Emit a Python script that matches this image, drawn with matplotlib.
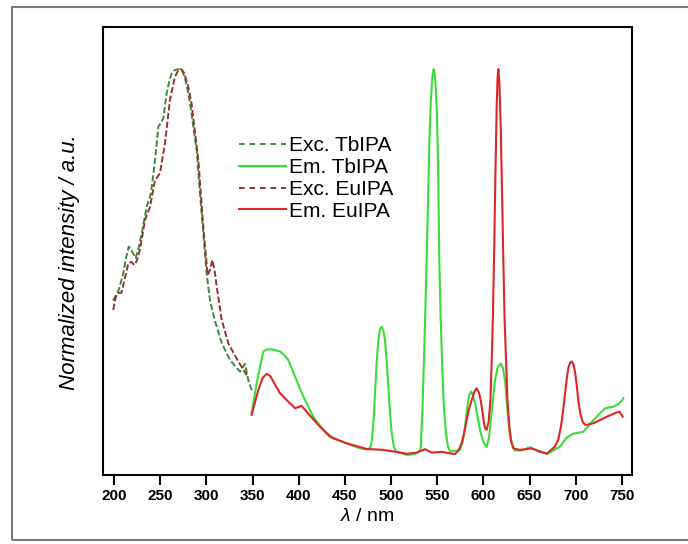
import matplotlib
matplotlib.use("Agg")
import matplotlib.pyplot as plt
from matplotlib.lines import Line2D
from matplotlib.patches import Rectangle

# ==========================================================
# 1. Data
# ==========================================================
exc_tb_wl = [199, 205, 210, 213, 216, 219, 223.5, 227, 230, 235.4,
             240, 244.4, 248, 253.4, 257, 260, 262.5, 265, 268, 271.5,
             274, 277, 280.4, 283, 285.9, 289.5, 293, 296.7, 300.3, 304,
             309, 316.6, 325.6, 336.4, 341.8, 345.4, 349]
exc_tb_int = [0.40, 0.427, 0.47, 0.51, 0.54, 0.53, 0.51, 0.54, 0.574, 0.643,
              0.678, 0.764, 0.85, 0.872, 0.937, 0.97, 0.989, 0.996, 0.999, 1.0,
              0.995, 0.975, 0.937, 0.9, 0.85, 0.79, 0.68, 0.575, 0.47, 0.40,
              0.35, 0.29, 0.246, 0.216, 0.236, 0.194, 0.168]

exc_eu_wl = [199.2, 202, 205, 208, 212, 215.5, 219, 222, 225, 228,
             233.6, 239, 244.4, 249.8, 255.2, 260.6, 266, 269.5, 272.5, 276,
             280.4, 284, 287, 291.3, 296.7, 301.4, 304, 306.4, 308.8, 311.2,
             316.6, 323.8, 334.6, 343.7]
exc_eu_int = [0.376, 0.41, 0.42, 0.42, 0.46, 0.497, 0.5, 0.492, 0.505, 0.531,
              0.609, 0.643, 0.712, 0.73, 0.808, 0.92, 0.98, 0.996, 1.0, 0.99,
              0.954, 0.91, 0.85, 0.764, 0.59, 0.466, 0.48, 0.505, 0.48, 0.436,
              0.35, 0.289, 0.242, 0.207]

em_tb_wl = [349, 354.5, 361.6, 365, 369, 374, 379.7, 384, 388.7, 396,
            405, 415.8, 426.6, 437.4, 451.9, 465, 475, 478, 479.5, 481,
            482.6, 484.4, 486.2, 488, 489.8, 491.6, 493.4, 495.2, 497, 498.8,
            500.7, 503, 505.3, 517, 526, 532, 534, 535.6, 537, 538.5,
            540, 541.4, 542.7, 543.9, 545, 546.1, 547.3, 548.6, 549.5, 550.4,
            551.3, 552.2, 553.6, 555.1, 557, 559.4, 561.5, 563.8, 574.6, 577.5,
            580, 582, 583.6, 585, 586.5, 588.5, 590.9, 593.5, 596.3, 599.5,
            603.4, 606, 608, 610.3, 612.5, 615.5, 618.7, 621, 623.3, 625,
            626.9, 628.8, 630.6, 634.2, 642, 650.4, 660, 670.2, 683, 690,
            697.3, 708, 719, 731.6, 740.6, 746, 749.7, 751.4]
em_tb_int = [0.108, 0.186, 0.268, 0.273, 0.274, 0.272, 0.268, 0.26, 0.246, 0.203,
             0.151, 0.099, 0.065, 0.043, 0.030, 0.018, 0.014, 0.022, 0.045, 0.09,
             0.16, 0.24, 0.298, 0.325, 0.332, 0.322, 0.298, 0.245, 0.177, 0.11,
             0.056, 0.022, 0.009, 0.0, 0.002, 0.013, 0.12, 0.246, 0.37, 0.505,
             0.66, 0.807, 0.9, 0.954, 0.988, 1.0, 0.985, 0.945, 0.89, 0.807,
             0.67, 0.505, 0.36, 0.246, 0.13, 0.056, 0.022, 0.009, 0.013, 0.035,
             0.073, 0.115, 0.142, 0.158, 0.164, 0.155, 0.134, 0.1, 0.065, 0.035,
             0.02, 0.045, 0.09, 0.145, 0.194, 0.228, 0.237, 0.225, 0.194, 0.145,
             0.09, 0.052, 0.030, 0.011, 0.012, 0.02, 0.008, 0.004, 0.022, 0.045,
             0.055, 0.06, 0.09, 0.121, 0.125, 0.132, 0.14, 0.147]

em_eu_wl = [349, 356.2, 361, 365.3, 369, 372.5, 379.7, 388.7, 396, 403,
            408.6, 419.5, 433.9, 452, 473.6, 491.6, 505, 517, 528, 536.7,
            544, 554.8, 569, 573, 576.3, 579, 581.7, 584.5, 587.3, 590,
            592.6, 595, 597, 599, 600.6, 602, 603.4, 605.5, 607.5, 609,
            610.3, 611.4, 612.9, 614.3, 615.2, 616.1, 617.2, 618.7, 620.1, 621.5,
            622.9, 624.4, 626, 628, 630, 632.3, 639.6, 652, 668.5, 677.5,
            681, 684, 686.5, 688.3, 690.3, 692, 693.8, 695.6, 697.4, 699.1,
            701, 702.7, 705, 707.4, 710, 712, 719, 733.4, 744.2, 747.5,
            750.7]
em_eu_int = [0.104, 0.168, 0.2, 0.21, 0.205, 0.19, 0.16, 0.138, 0.121, 0.127,
             0.112, 0.082, 0.047, 0.030, 0.0155, 0.013, 0.008, 0.003, 0.006, 0.015,
             0.006, 0.008, 0.002, 0.012, 0.030, 0.055, 0.09, 0.12, 0.142, 0.163,
             0.173, 0.162, 0.142, 0.11, 0.082, 0.068, 0.065, 0.085, 0.14, 0.25,
             0.37, 0.505, 0.72, 0.9, 0.975, 1.0, 0.965, 0.85, 0.68, 0.505,
             0.35, 0.246, 0.14, 0.073, 0.035, 0.017, 0.013, 0.017, 0.003, 0.022,
             0.04, 0.075, 0.12, 0.16, 0.2, 0.226, 0.239, 0.242, 0.235, 0.215,
             0.18, 0.14, 0.105, 0.086, 0.078, 0.078, 0.082, 0.099, 0.11, 0.112,
             0.099]

labels = ["Exc. TbIPA", "Em. TbIPA", "Exc. EuIPA", "Em. EuIPA"]
x_ticks = [200, 250, 300, 350, 400, 450, 500, 550, 600, 650, 700, 750]

# ==========================================================
# 2. Figure setup
# ==========================================================
plt.rcParams["font.family"] = ["Liberation Sans", "DejaVu Sans"]
plt.rcParams["mathtext.fontset"] = "custom"
plt.rcParams["mathtext.rm"] = "Liberation Sans"
plt.rcParams["mathtext.it"] = "Liberation Sans:italic"

fig = plt.figure(figsize=(6.88, 5.44), dpi=100)
ax = fig.add_axes([103 / 688, 69 / 544, 529 / 688, 448 / 544])

# outer frame round the whole picture
fig.patches.append(
    Rectangle(
        (12 / 688, 4 / 544),
        1.2,
        533 / 544,
        transform=fig.transFigure,
        fill=False,
        edgecolor="#7a7a7a",
        linewidth=1.5,
    )
)

# ==========================================================
# 3. Curves
# ==========================================================
colors = ["#3a8c3a", "#3ddc3d", "#943232", "#dd2626"]
curve_dash = (0, (3.2, 1.3))
legend_dash = (0, (2.9, 2.5))

ax.plot(exc_tb_wl, exc_tb_int, color=colors[0], linewidth=1.4,
        linestyle=curve_dash)
ax.plot(em_tb_wl, em_tb_int, color=colors[1], linewidth=1.5)
ax.plot(exc_eu_wl, exc_eu_int, color=colors[2], linewidth=1.4,
        linestyle=curve_dash)
ax.plot(em_eu_wl, em_eu_int, color=colors[3], linewidth=1.5)

# ==========================================================
# 4. Axes
# ==========================================================
ax.set_xlim(188.1, 760.8)
ax.set_ylim(-0.052, 1.109)

ax.set_xticks(x_ticks)
ax.set_yticks([])
ax.tick_params(axis="x", direction="out", length=7, width=1.5,
               pad=3, labelsize=11)
for lbl in ax.get_xticklabels():
    lbl.set_fontweight("bold")

for spine in ax.spines.values():
    spine.set_linewidth(1.5)

ax.set_xlabel(r"$\lambda$ / nm", fontsize=14, labelpad=4)
ax.set_ylabel("Normalized intensity / a.u.", fontsize=16,
              fontstyle="italic")
ax.yaxis.set_label_coords(-0.044, 0.475)

# ==========================================================
# 5. Legend (own handles: wider dash gaps than on the curves)
# ==========================================================
handles = [
    Line2D([], [], color=colors[0], linewidth=1.4, linestyle=legend_dash),
    Line2D([], [], color=colors[1], linewidth=1.5),
    Line2D([], [], color=colors[2], linewidth=1.4, linestyle=legend_dash),
    Line2D([], [], color=colors[3], linewidth=1.5),
]

ax.legend(
    handles,
    labels,
    loc="upper left",
    bbox_to_anchor=(0.257, 0.756),
    frameon=False,
    fontsize=15,
    handlelength=2.25,
    handletextpad=0.15,
    labelspacing=0.135,
    borderpad=0,
    borderaxespad=0,
)

fig.savefig("out.png", dpi=100, facecolor="white")
